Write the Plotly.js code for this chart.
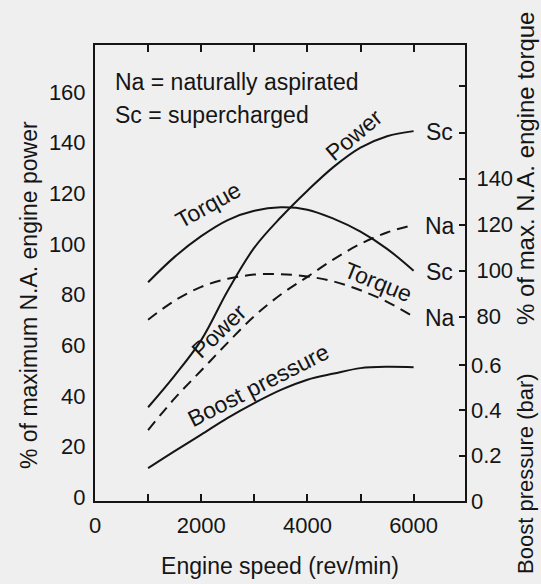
<!DOCTYPE html>
<html>
<head>
<meta charset="utf-8">
<script src="https://cdn.plot.ly/plotly-3.0.1.min.js"></script>
<style>html,body{margin:0;padding:0;background:#efefef;}</style>
</head>
<body>
<div id="chart" style="width:541px;height:584px;"></div>
<script>
// Engine speed (rev/min)
const rpm = [1000, 1500, 2000, 2500, 3000, 3500, 4000, 4500, 5000, 5500, 6000];
// % of maximum N.A. engine power
const powerSc = [35.5, 48, 62, 81.5, 98.5, 110.5, 121, 130.5, 138, 142.5, 144.5];
const powerNa = [26.5, 39, 50, 61, 71.5, 80, 87, 94, 100, 104.5, 107.5];
// % of max. N.A. engine torque
const torqueSc = [95, 106, 115, 122, 126, 127.5, 126.5, 122.5, 117, 109.5, 100];
const torqueNa = [78.7, 87, 93, 96.5, 98.3, 98.5, 97.5, 95.3, 91.5, 86.5, 80];
// Boost pressure (bar)
const boost = [0.145, 0.22, 0.293, 0.367, 0.432, 0.49, 0.535, 0.562, 0.586, 0.592, 0.59];

const xTickVals = [0, 1000, 2000, 3000, 4000, 5000, 6000];
const xTickText = ['0', '', '2000', '', '4000', '', '6000'];
const powerTickVals = [0, 20, 40, 60, 80, 100, 120, 140, 160];
const torqueTickVals = [80, 100, 120, 140, 160, 180];
const torqueTickText = ['80', '100', '120', '140', '', ''];
const boostTickVals = [0, 0.2, 0.4, 0.6];
const boostTickText = ['0', '0.2', '0.4', '0.6'];

const ink = '#151515';
const FONT = '"Liberation Sans", Arial, Helvetica, sans-serif';
const solid = {color: ink, width: 2, shape: 'spline', smoothing: 1};
const dashed = {color: ink, width: 2, shape: 'spline', smoothing: 1, dash: '11px,7px'};

const traces = [
  {x: rpm, y: powerSc, yaxis: 'y', mode: 'lines', line: solid, name: 'Power Sc'},
  {x: rpm, y: powerNa, yaxis: 'y', mode: 'lines', line: dashed, name: 'Power Na'},
  {x: rpm, y: torqueSc, yaxis: 'y2', mode: 'lines', line: solid, name: 'Torque Sc'},
  {x: rpm, y: torqueNa, yaxis: 'y2', mode: 'lines', line: dashed, name: 'Torque Na'},
  {x: rpm, y: boost, yaxis: 'y3', mode: 'lines', line: solid, name: 'Boost pressure'}
];

function ann(text, x, y, angle, extra) {
  return Object.assign({text: text, x: x, y: y, xref: 'x', yref: 'y', showarrow: false,
    xanchor: 'center', yanchor: 'middle',
    textangle: angle, font: {family: FONT, size: 23, color: ink}}, extra || {});
}
function sideTitle(text, x, y, size) {
  return {text: text, xref: 'paper', yref: 'paper', x: x, y: y, showarrow: false,
    xanchor: 'center', yanchor: 'middle', textangle: -90,
    font: {family: FONT, size: size, color: ink}};
}

const layout = {
  width: 541, height: 584,
  margin: {l: 95, r: 76, t: 45, b: 83},
  paper_bgcolor: '#efefef', plot_bgcolor: '#efefef',
  showlegend: false,
  font: {family: FONT, size: 22, color: ink},
  xaxis: {
    range: [0, 6968], tickvals: xTickVals, ticktext: xTickText,
    ticks: 'inside', ticklen: 7, tickwidth: 2, tickcolor: ink,
    showline: true, linewidth: 2, linecolor: ink, mirror: 'ticks',
    showgrid: false, zeroline: false, ticklabelstandoff: 4,
    tickfont: {family: FONT, size: 22, color: ink},
    title: {text: 'Engine speed (rev/min)', font: {family: FONT, size: 23, color: ink}, standoff: 20}
  },
  yaxis: {
    range: [-1.5, 178.5], tickvals: powerTickVals,
    ticks: '', showline: true, linewidth: 2, linecolor: ink,
    showgrid: false, zeroline: false, ticklabelstandoff: 3,
    tickfont: {family: FONT, size: 22, color: ink}
  },
  yaxis4: {
    range: [0, 198], overlaying: 'y', side: 'left', anchor: 'x',
    tickvals: [20, 40, 60, 80, 100, 120, 140, 160, 180], showticklabels: false,
    ticks: 'inside', ticklen: 6, tickwidth: 2, tickcolor: ink,
    showline: false, showgrid: false, zeroline: false
  },
  yaxis2: {
    range: [0, 198], overlaying: 'y', side: 'right', anchor: 'x',
    tickvals: torqueTickVals, ticktext: torqueTickText,
    ticks: 'inside', ticklen: 6, tickwidth: 2, tickcolor: ink,
    showline: true, linewidth: 2, linecolor: ink,
    showgrid: false, zeroline: false, ticklabelstandoff: 5,
    tickfont: {family: FONT, size: 22, color: ink}
  },
  yaxis3: {
    range: [0, 2.011], overlaying: 'y', side: 'right', anchor: 'x',
    tickvals: boostTickVals, ticktext: boostTickText,
    ticks: 'inside', ticklen: 6, tickwidth: 2, tickcolor: ink,
    showline: false, showgrid: false, zeroline: false, ticklabelstandoff: 5,
    tickfont: {family: FONT, size: 22, color: ink}
  },
  annotations: [
    ann('Na = naturally aspirated', 339, 163.9, 0, {xanchor: 'left'}),
    ann('Sc = supercharged', 339, 150.9, 0, {xanchor: 'left'}),
    ann('Torque', 2203, 112.2, -29, {xshift: -4, yshift: 8}),
    ann('Power', 4983, 140.3, -40, {xshift: -6, yshift: 7}),
    ann('Torque', 5273, 81.8, 22, {xshift: 3, yshift: 8}),
    ann('Power', 2367, 64.9, -44, {xshift: -2, yshift: 2}),
    ann('Boost pressure', 3160, 41, -27, {xshift: -4, yshift: 8}),
    ann('Sc', 6497, 144.1, 0),
    ann('Na', 6497, 107.0, 0),
    ann('Sc', 6497, 88.9, 0),
    ann('Na', 6497, 70.7, 0),
    sideTitle('% of maximum N.A. engine power', -0.178, 0.452, 23),
    sideTitle('% of max. N.A. engine torque', 1.162, 0.730, 24),
    sideTitle('Boost pressure (bar)', 1.162, 0.0614, 22)
  ]
};

Plotly.newPlot('chart', traces, layout, {displayModeBar: false, staticPlot: true});
</script>
</body>
</html>
